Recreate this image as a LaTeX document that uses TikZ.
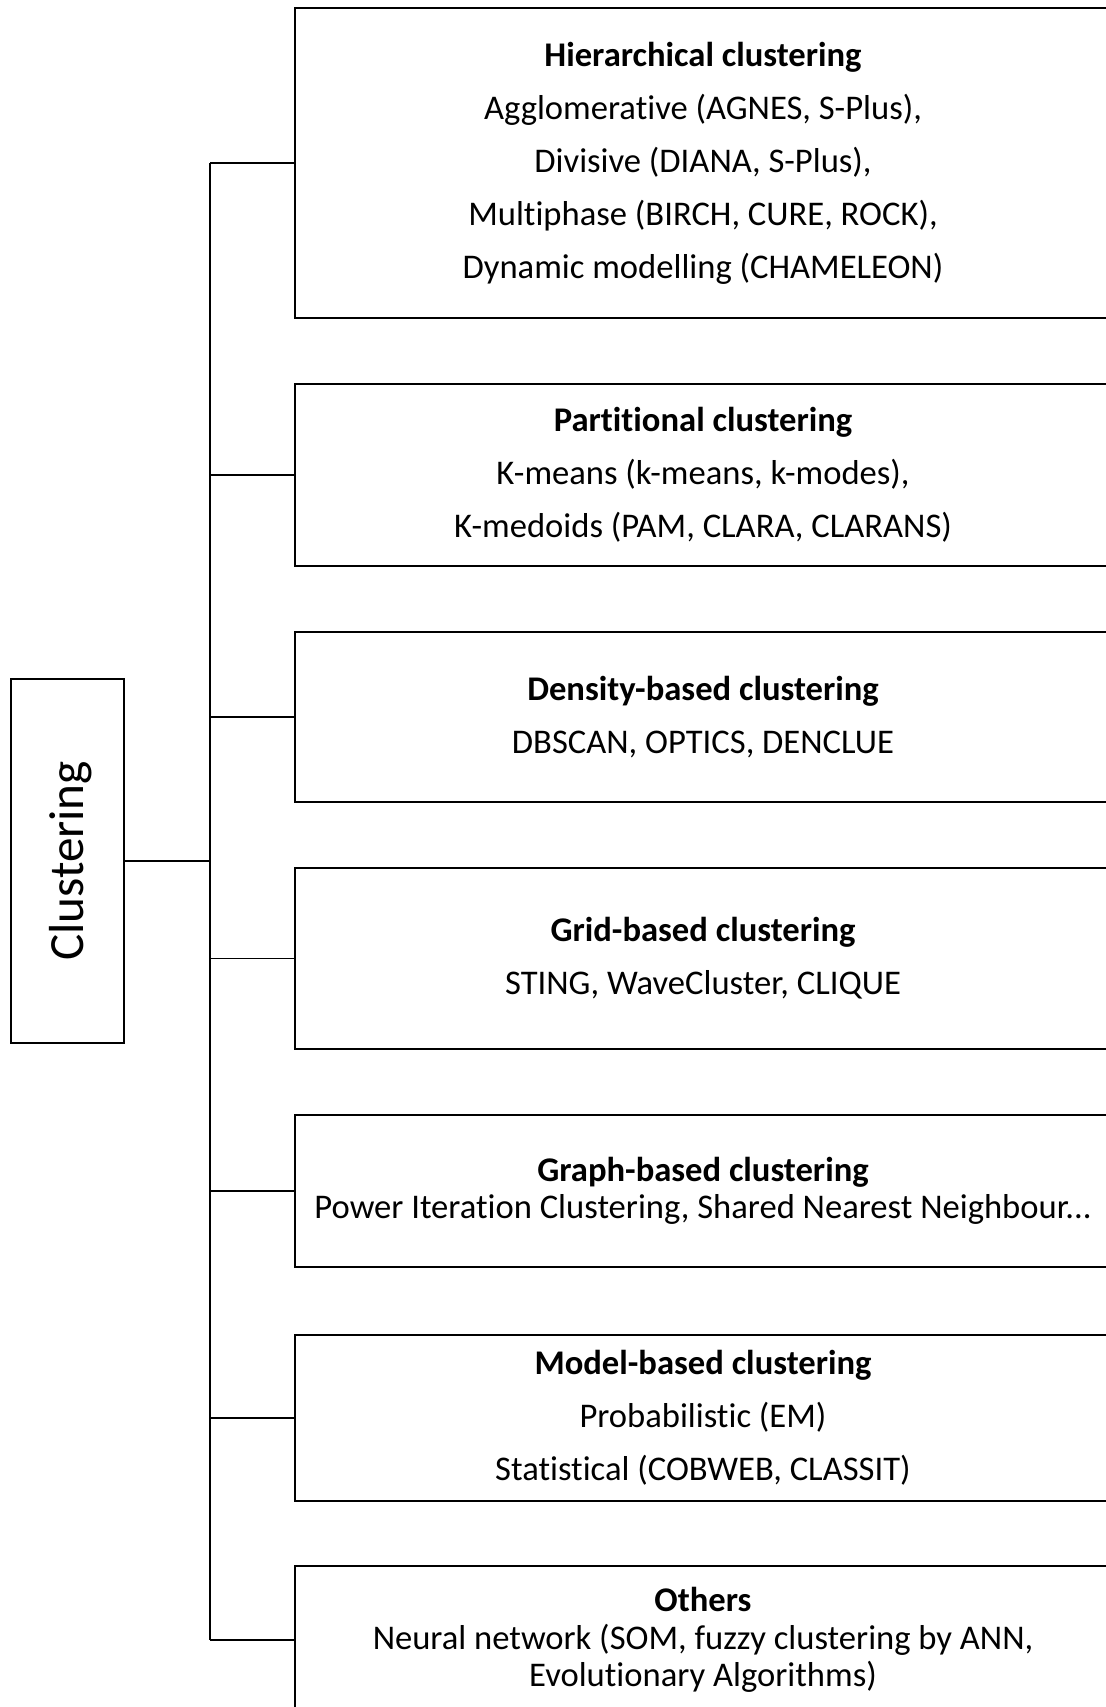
\documentclass[tikz,border=0pt]{standalone}
\usepackage{fontspec}
\setmainfont{Carlito}[Ligatures=NoCommon]
\begin{document}
\begin{tikzpicture}[x=0.5pt,y=-0.5pt,
  catbox/.style={draw=black, line width=0.8pt, rectangle, minimum width=408pt,
    align=center, inner sep=0pt, font=\fontsize{17.3}{26.5}\selectfont},
  tightbox/.style={catbox, font=\fontsize{17.3}{18.7}\selectfont},
  link/.style={draw=black, line width=0.9pt}]
\useasboundingbox (0,0) rectangle (1106,1707);
\clip (0,0) rectangle (1106,1707);

% root
\node[draw=black, line width=0.8pt, minimum width=56.5pt, minimum height=182pt, inner sep=0pt]
  (root) at (67.5,861) {};
\node[rotate=90, font=\fontsize{24.6}{28}\selectfont] (rootlabel) at ([xshift=1.5pt]root.center) {Clustering};

% categories
\node[catbox, minimum height=155pt] (b1) at (703,163)
  {\textbf{Hierarchical clustering}\\Agglomerative (AGNES, S-Plus),\\Divisive (DIANA, S-Plus),\\Multiphase (BIRCH, CURE, ROCK),\\Dynamic modelling (CHAMELEON)};
\node[catbox, minimum height=91pt] (b2) at (703,475)
  {\textbf{Partitional clustering}\\K-means (k-means, k-modes),\\K-medoids (PAM, CLARA, CLARANS)};
\node[catbox, minimum height=85pt] (b3) at (703,717)
  {\textbf{Density-based clustering}\\DBSCAN, OPTICS, DENCLUE};
\node[catbox, minimum height=90.5pt] (b4) at (703,958.5)
  {\textbf{Grid-based clustering}\\STING, WaveCluster, CLIQUE};
\node[tightbox, minimum height=76pt] (b5) at (703,1191)
  {\textbf{Graph-based clustering}\\Power Iteration Clustering, Shared Nearest Neighbour...};
\node[catbox, minimum height=83pt] (b6) at (703,1418)
  {\textbf{Model-based clustering}\\Probabilistic (EM)\\Statistical (COBWEB, CLASSIT)};
\node[tightbox, minimum height=74pt] (b7) at (703,1640)
  {\textbf{Others}\\Neural network (SOM, fuzzy clustering by ANN,\\Evolutionary Algorithms)};

% connectors
\coordinate (trunk) at (210,861);
\draw[link] (root.east) -- (trunk);
\draw[link] (trunk |- b1.west) -- (trunk |- b7.west);
\foreach \i in {1,...,7} {
  \draw[link, line width=0.7pt] (trunk |- b\i.west) -- (b\i.west);
}
\end{tikzpicture}
\end{document}
